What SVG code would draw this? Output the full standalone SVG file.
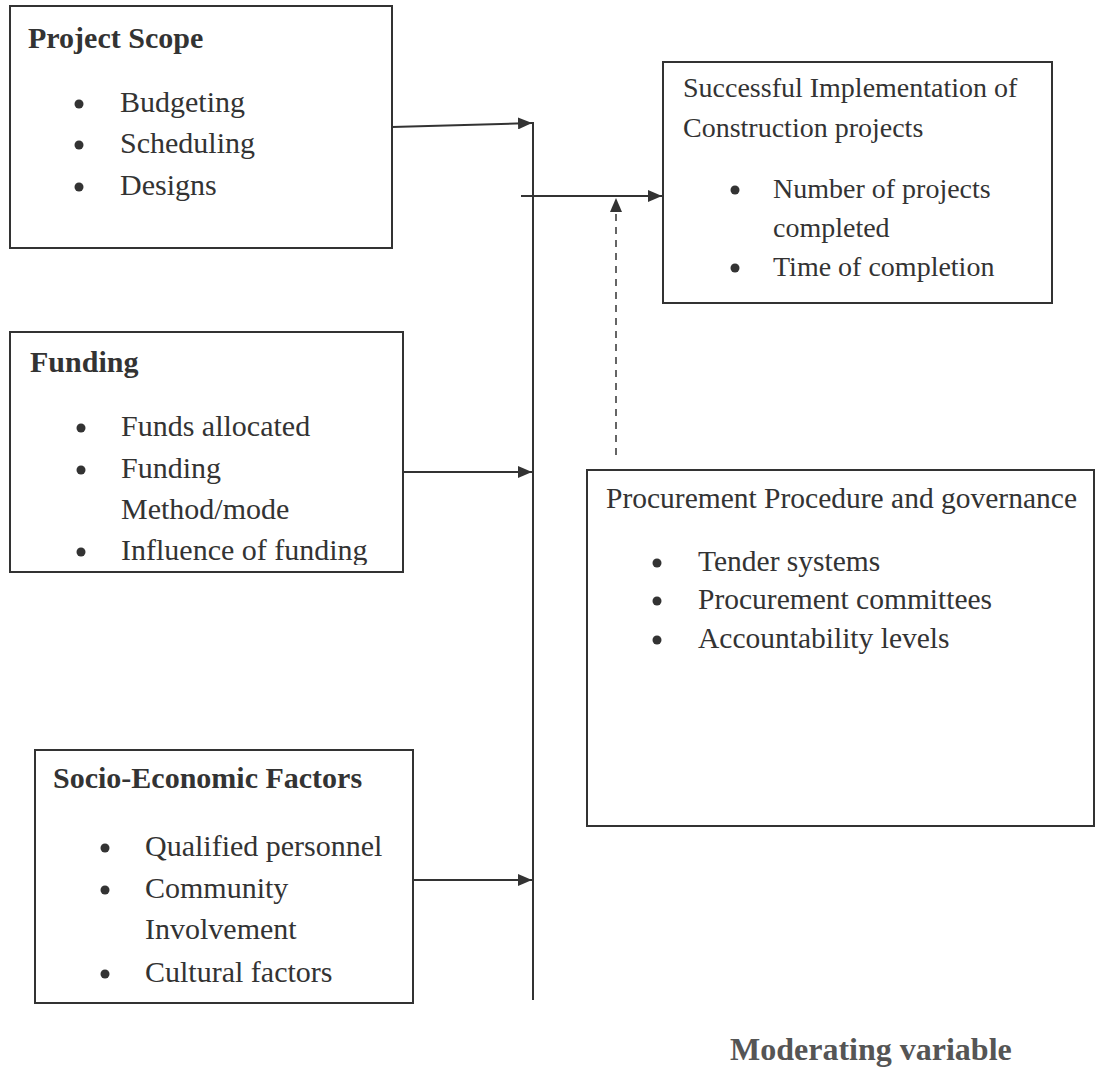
<svg xmlns="http://www.w3.org/2000/svg" width="1099" height="1067" viewBox="0 0 1099 1067">
<defs>
<style>
.box{fill:#fff;stroke:#333;stroke-width:2}
.t{font-family:"Liberation Serif","Times New Roman",serif;font-size:30px;fill:#333}
.t2{font-family:"Liberation Serif","Times New Roman",serif;font-size:28px;fill:#333}
.t3{font-family:"Liberation Serif","Times New Roman",serif;font-size:29.5px;fill:#333}
.b{font-family:"Liberation Serif","Times New Roman",serif;font-size:30px;font-weight:bold;fill:#333}
.dot{fill:#333}
.ln{stroke:#333;stroke-width:2;fill:none}
.dash{stroke:#333;stroke-width:1.5;fill:none;stroke-dasharray:7,6}
</style>
<marker id="ah" viewBox="0 0 14 12" refX="14" refY="6" markerWidth="14" markerHeight="12" markerUnits="userSpaceOnUse" orient="auto">
<path d="M0,0 L14,6 L0,12 Z" fill="#333"/>
</marker>
<clipPath id="fclip"><rect x="10" y="332" width="393" height="233"/></clipPath>
</defs>
<rect width="1099" height="1067" fill="#fff"/>

<g id="project-scope">
<rect class="box" x="10" y="6" width="382" height="242"/>
<text class="b" x="28" y="48">Project Scope</text>
<circle class="dot" cx="79" cy="104" r="4.5"/><text class="t" x="120" y="112">Budgeting</text>
<circle class="dot" cx="79" cy="145" r="4.5"/><text class="t" x="120" y="153">Scheduling</text>
<circle class="dot" cx="79" cy="187" r="4.5"/><text class="t" x="120" y="195">Designs</text>
</g>

<g id="funding">
<rect class="box" x="10" y="332" width="393" height="240"/>
<text class="b" x="30" y="372">Funding</text>
<g clip-path="url(#fclip)">
<circle class="dot" cx="81" cy="428" r="4.5"/><text class="t" x="121" y="436">Funds allocated</text>
<circle class="dot" cx="81" cy="470" r="4.5"/><text class="t" x="121" y="478">Funding</text>
<text class="t" x="121" y="519">Method/mode</text>
<circle class="dot" cx="81" cy="552" r="4.5"/><text class="t" x="121" y="560">Influence of funding</text>
</g>
</g>

<g id="socio-economic">
<rect class="box" x="35" y="750" width="378" height="253"/>
<text class="b" x="53" y="788">Socio-Economic Factors</text>
<circle class="dot" cx="105" cy="848" r="4.5"/><text class="t" x="145" y="856">Qualified personnel</text>
<circle class="dot" cx="105" cy="890" r="4.5"/><text class="t" x="145" y="898">Community</text>
<text class="t" x="145" y="939">Involvement</text>
<circle class="dot" cx="105" cy="974" r="4.5"/><text class="t" x="145" y="982">Cultural factors</text>
</g>

<g id="outcome">
<rect class="box" x="663" y="62" width="389" height="241"/>
<text class="t2" x="683" y="97">Successful Implementation of</text>
<text class="t2" x="683" y="137">Construction projects</text>
<circle class="dot" cx="735" cy="190" r="4.5"/><text class="t2" x="773" y="198">Number of projects</text>
<text class="t2" x="773" y="237">completed</text>
<circle class="dot" cx="735" cy="268" r="4.5"/><text class="t2" x="773" y="276">Time of completion</text>
</g>

<g id="procurement">
<rect class="box" x="587" y="470" width="507" height="356"/>
<text class="t3" x="606" y="508">Procurement Procedure and governance</text>
<circle class="dot" cx="657" cy="563" r="4.5"/><text class="t3" x="698" y="571">Tender systems</text>
<circle class="dot" cx="657" cy="601" r="4.5"/><text class="t3" x="698" y="609">Procurement committees</text>
<circle class="dot" cx="657" cy="640" r="4.5"/><text class="t3" x="698" y="648">Accountability levels</text>
</g>

<g id="connectors">
<line class="ln" x1="392" y1="127" x2="532" y2="123" marker-end="url(#ah)"/>
<line class="ln" x1="533" y1="122" x2="533" y2="1000"/>
<line class="ln" x1="403" y1="472" x2="532" y2="472" marker-end="url(#ah)"/>
<line class="ln" x1="413" y1="880" x2="532" y2="880" marker-end="url(#ah)"/>
<line class="ln" x1="521" y1="196" x2="662" y2="196" marker-end="url(#ah)"/>
<line class="dash" x1="616" y1="455" x2="616" y2="198" marker-end="url(#ah)"/>
</g>

<text x="730" y="1060" style="font-family:'Liberation Serif','Times New Roman',serif;font-size:32px;font-weight:bold;fill:#555">Moderating variable</text>
</svg>
